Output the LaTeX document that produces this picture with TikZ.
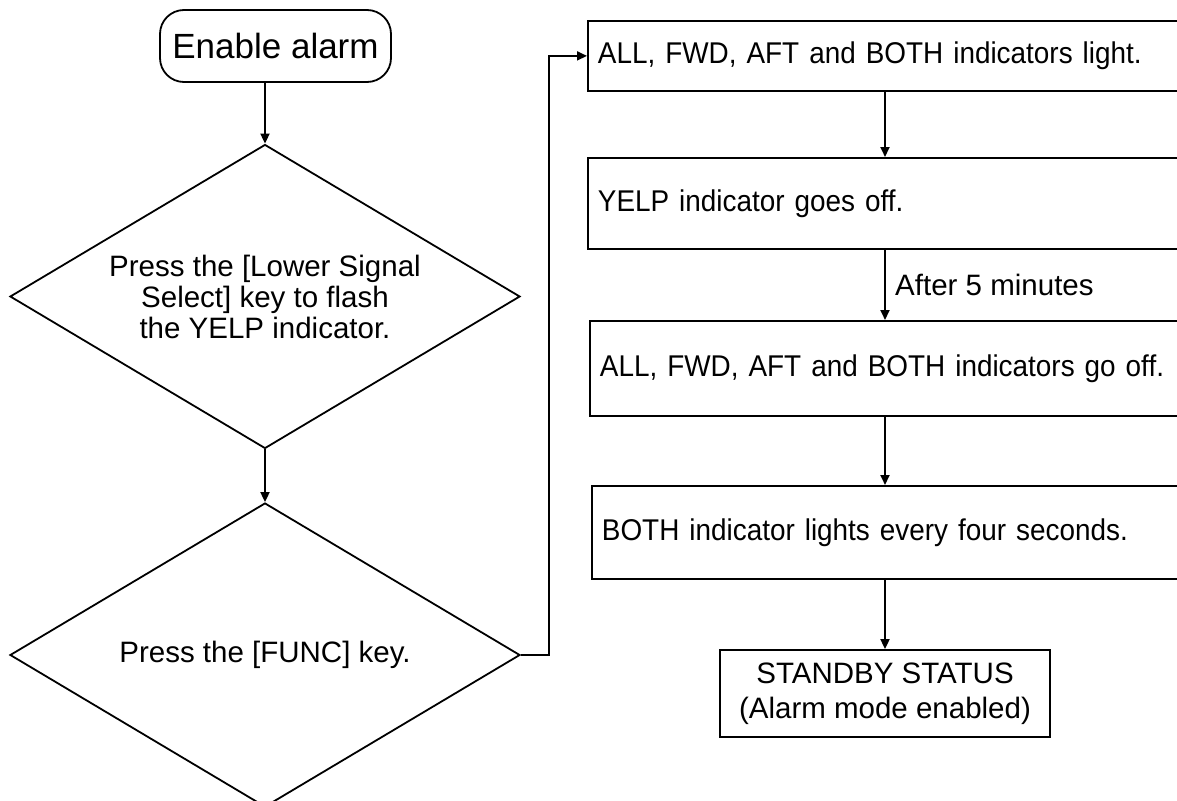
\documentclass[tikz,border=0pt]{standalone}
\usepackage{fontspec}
\setmainfont{Liberation Sans}
\newfontfamily\narrowf[FakeStretch=0.93]{Liberation Sans}
\usetikzlibrary{shapes.geometric,arrows.meta}
\begin{document}
\begin{tikzpicture}[x=1pt,y=-1pt,
  line width=1.8pt,
  txt/.style={font=\fontsize{29.5}{31}\selectfont},
  arr/.style={-{Triangle[length=10pt,width=9pt]}},
  dia/.style={draw,shape=diamond,aspect=1.68,minimum width=510pt,minimum height=304pt,inner sep=0pt,align=center,txt},
  stepbox/.style={draw,rectangle,anchor=north west,text width=700pt,inner xsep=10pt,align=left,font=\narrowf\fontsize{30}{31}\selectfont},
]
\path[use as bounding box] (0,0) rectangle (1177,800);
\clip (0,0) rectangle (1177,800);
\node[draw,rounded corners=24pt,minimum width=231pt,minimum height=72pt,inner sep=0pt,font=\fontsize{35}{35}\selectfont] (e) at (275.5,46) {Enable alarm};
\node[dia] (d1) at (265,296.5) {Press the [Lower Signal\\Select] key to flash\\the YELP indicator.};
\node[dia] (d2) at (265,655) {Press the [FUNC] key.};
\node[stepbox,minimum height=70pt] (b1) at (587,20) {ALL, FWD, AFT and BOTH indicators light.};
\node[stepbox,minimum height=91pt] (b2) at (587,157) {YELP indicator goes off.};
\node[stepbox,minimum height=95pt] (b3) at (589,320) {ALL, FWD, AFT and BOTH indicators go off.};
\node[stepbox,minimum height=93pt] (b4) at (591,485) {BOTH indicator lights every four seconds.};
\node[draw,minimum width=330pt,minimum height=87pt,inner sep=0pt,align=center,font=\fontsize{29.5}{35}\selectfont] (b5) at (885,693.5) {STANDBY STATUS\\(Alarm mode enabled)};
\draw[arr] (d1.north |- e.south) -- (d1.north);
\draw[arr] (d1.south) -- (d2.north);
\coordinate (k) at (549,655);
\draw[arr] (d2.east) -- (k) |- (b1.west);
\draw[arr] (b1.south -| b5.north) -- (b2.north -| b5.north);
\draw[arr] (b2.south -| b5.north) -- node[right,txt,xshift=6pt]{After 5 minutes} (b3.north -| b5.north);
\draw[arr] (b3.south -| b5.north) -- (b4.north -| b5.north);
\draw[arr] (b4.south -| b5.north) -- (b5.north);
\end{tikzpicture}
\end{document}
